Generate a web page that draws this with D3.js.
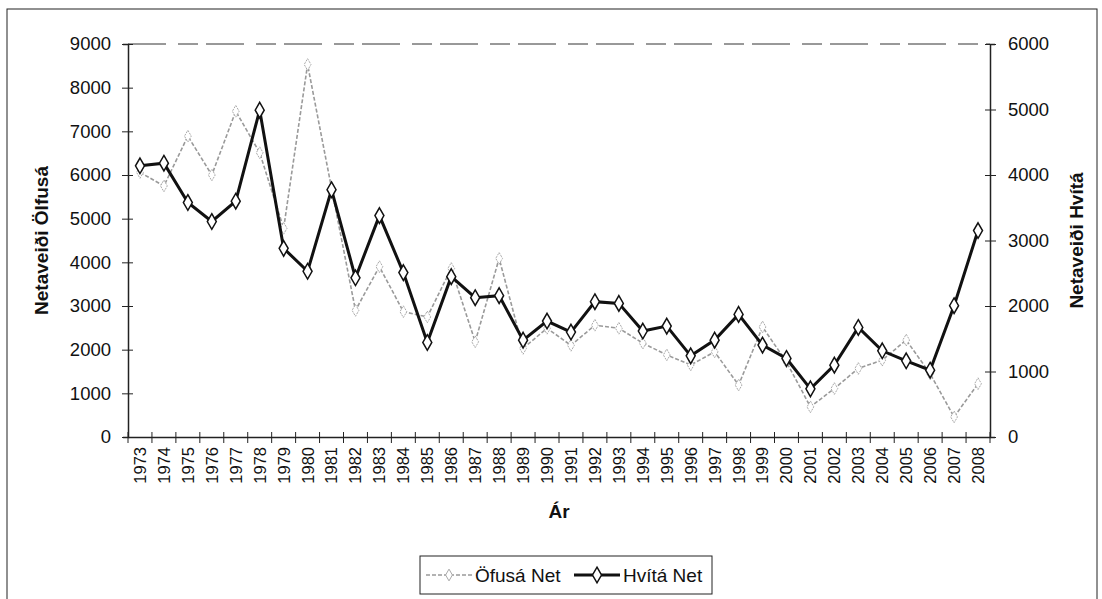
<!DOCTYPE html>
<html><head><meta charset="utf-8">
<script src="https://cdn.jsdelivr.net/npm/d3@7"></script>
<style>body{margin:0;background:#fff}svg{display:block}text{font-family:Arial,"Liberation Sans",sans-serif}</style>
</head><body><svg id="c" width="1102" height="599"></svg>
<script>
const years = [1973,1974,1975,1976,1977,1978,1979,1980,1981,1982,1983,1984,1985,1986,1987,1988,1989,1990,1991,1992,1993,1994,1995,1996,1997,1998,1999,2000,2001,2002,2003,2004,2005,2006,2007,2008];
const ofusaNet = [6060,5750,6890,6000,7460,6510,4780,8530,5700,2900,3900,2870,2750,3860,2180,4090,2030,2490,2100,2560,2490,2150,1880,1650,1950,1190,2520,1720,690,1110,1570,1760,2220,1450,460,1220];
const hvitaNet = [4140,4180,3580,3290,3600,4990,2880,2530,3775,2430,3380,2510,1443,2448,2127,2158,1479,1770,1602,2066,2040,1617,1693,1239,1479,1872,1403,1199,735,1097,1673,1316,1163,1020,2005,3152];
const leftTicks = [0,1000,2000,3000,4000,5000,6000,7000,8000,9000];
const rightTicks = [0,1000,2000,3000,4000,5000,6000];
const seriesNames = ["Öfusá Net","Hvítá Net"];

const svg = d3.select("#c");
const L=128,R=990,T=44,B=437;
const FS=18.5;
// outer border
svg.append("rect").attr("x",7).attr("y",9).attr("width",1090).attr("height",600).attr("fill","none").attr("stroke","#222").attr("stroke-width",1);

const x = d3.scaleBand().domain(years).range([L,R]).padding(0);
const yL = d3.scaleLinear().domain([0,9000]).range([B,T]);
const yR = d3.scaleLinear().domain([0,6000]).range([B,T]);

// top dashed border
svg.append("line").attr("x1",L).attr("x2",R).attr("y1",T).attr("y2",T).attr("stroke","#333").attr("stroke-width",1).attr("stroke-dasharray","38,12,20,8");

// left axis
const gl = svg.append("g").attr("transform",`translate(${L},0)`)
  .call(d3.axisLeft(yL).tickValues(leftTicks).tickSize(5).tickPadding(12).tickFormat(d3.format("d")));
gl.selectAll(".tick line").attr("x2",5).attr("x1",-6);
// right axis
const gr = svg.append("g").attr("transform",`translate(${R},0)`)
  .call(d3.axisRight(yR).tickValues(rightTicks).tickSize(5).tickPadding(13).tickFormat(d3.format("d")));
gr.selectAll(".tick line").attr("x1",-5).attr("x2",6);
// bottom axis
const gb = svg.append("g").attr("transform",`translate(0,${B})`)
  .call(d3.axisBottom(x).tickSize(0).tickPadding(10));
gb.selectAll(".tick text").attr("transform","rotate(-90)").attr("text-anchor","end").attr("dy","0.36em").attr("x",-10).attr("y",0);
// category boundary ticks
const bounds = years.map(d=>x(d)).concat([R]);
svg.append("g").selectAll("line").data(bounds).join("line")
  .attr("x1",d=>d).attr("x2",d=>d).attr("y1",B-5).attr("y2",B+6).attr("stroke","#222");

[gl,gr,gb].forEach(g=>{
  g.selectAll(".domain").attr("stroke","#222").attr("stroke-width",1.5);
  g.selectAll("text").attr("font-size",FS).attr("fill","#111");
  g.selectAll(".tick line").attr("stroke","#222");
});
gb.selectAll("text").attr("font-size",16.5);

// titles
svg.append("text").attr("transform",`translate(48,${(T+B)/2}) rotate(-90)`).attr("text-anchor","middle")
  .attr("font-size",19).attr("font-weight","bold").attr("fill","#111").text("Netaveiði Ölfusá");
svg.append("text").attr("transform",`translate(1083,${(T+B)/2}) rotate(-90)`).attr("text-anchor","middle")
  .attr("font-size",19).attr("font-weight","bold").attr("fill","#111").text("Netaveiði Hvítá");
svg.append("text").attr("x",(L+R)/2).attr("y",518).attr("text-anchor","middle")
  .attr("font-size",19).attr("font-weight","bold").attr("fill","#111").text("Ár");

const cx = d=>x(d)+x.bandwidth()/2;
const diamond = d3.symbol().type(d3.symbolDiamond);

// Öfusá
const lineL = d3.line().x((d,i)=>cx(years[i])).y(d=>yL(d));
svg.append("path").datum(ofusaNet).attr("d",lineL).attr("fill","none").attr("stroke","#9a9a9a").attr("stroke-width",1.6).attr("stroke-dasharray","4,2");
svg.append("g").selectAll("path").data(ofusaNet).join("path")
  .attr("d",diamond.size(40)()).attr("transform",(d,i)=>`translate(${cx(years[i])},${yL(d)})`)
  .attr("fill","#fff").attr("stroke","#aaa").attr("stroke-width",1).attr("stroke-dasharray","2,1");

// Hvítá
const lineR = d3.line().x((d,i)=>cx(years[i])).y(d=>yR(d));
svg.append("path").datum(hvitaNet).attr("d",lineR).attr("fill","none").attr("stroke","#111").attr("stroke-width",3);
svg.append("g").selectAll("path").data(hvitaNet).join("path")
  .attr("d",diamond.size(70)()).attr("transform",(d,i)=>`translate(${cx(years[i])},${yR(d)})`)
  .attr("fill","#fff").attr("stroke","#111").attr("stroke-width",1.5);

// legend
const lg = svg.append("g").attr("transform","translate(420,556)");
lg.append("rect").attr("width",292).attr("height",38).attr("fill","#fff").attr("stroke","#222");
lg.append("line").attr("x1",6).attr("x2",52).attr("y1",19).attr("y2",19).attr("stroke","#9a9a9a").attr("stroke-width",1.6).attr("stroke-dasharray","4,2");
lg.append("path").attr("d",diamond.size(40)()).attr("transform","translate(29,19)").attr("fill","#fff").attr("stroke","#aaa");
lg.append("text").attr("x",55).attr("y",26).attr("font-size",19).attr("fill","#111").text(seriesNames[0]);
lg.append("line").attr("x1",154).attr("x2",200).attr("y1",19).attr("y2",19).attr("stroke","#111").attr("stroke-width",3);
lg.append("path").attr("d",diamond.size(70)()).attr("transform","translate(177,19)").attr("fill","#fff").attr("stroke","#111").attr("stroke-width",1.5);
lg.append("text").attr("x",203).attr("y",26).attr("font-size",19).attr("fill","#111").text(seriesNames[1]);
</script></body></html>
